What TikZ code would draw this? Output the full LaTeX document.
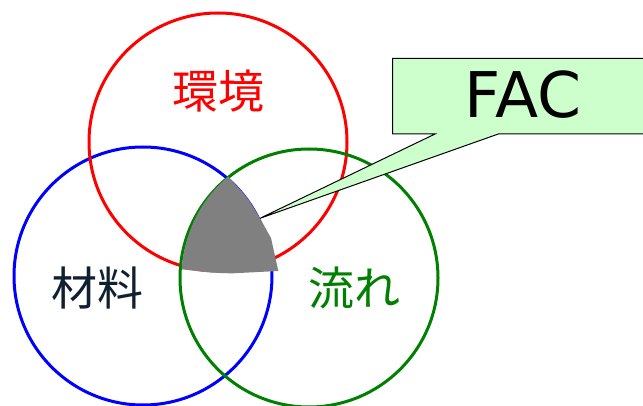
\documentclass[tikz,border=0pt]{standalone}
\usepackage{fontspec}
\newfontfamily\cjk{Noto Sans CJK JP}
\newfontfamily\facfont{DejaVu Sans}
\definecolor{redc}{HTML}{FF0000}
\definecolor{bluec}{HTML}{0000FF}
\definecolor{greenc}{HTML}{008000}
\definecolor{navy}{HTML}{102030}
\definecolor{callfill}{HTML}{CCFFCC}
\definecolor{grayfill}{HTML}{808080}
\tikzset{
  ring/.style={circle, draw, line width=3pt, minimum size=258pt, inner sep=0pt, outer sep=0pt},
  jlabel/.style={font=\cjk\fontsize{46}{46}\selectfont, inner sep=0pt}
}
\begin{document}
\begin{tikzpicture}[x=1pt,y=-1pt]
\useasboundingbox (0,0) rectangle (643,406);
\clip (0,0) rectangle (643,406);
\node[ring, draw=bluec] (mat) at (143,276) {};
\node[ring, draw=redc] (env) at (218,142) {};
\node[ring, draw=greenc] (flow) at (309,278) {};
% gray intersection region
\coordinate (ga) at (228.3,176.7);
\coordinate (gb) at (181.7,269.3);
\coordinate (gc) at (233,273.3);
\coordinate (gd) at (278.3,271);
\coordinate (ge) at (271,238);
\coordinate (tip) at (260,218.3);
\fill[grayfill] (ga) .. controls (200.5,199) and (184.1,233.8) .. (gb)
  .. controls (200,271.5) and (215,273.3) .. (gc) -- (gd) -- (ge) -- (tip)
  .. controls (248,198) .. (ga);
% callout
\coordinate (bl) at (392.7,134);
\coordinate (tl) at (392.7,58.3);
\coordinate (tr) at (650,58.3);
\coordinate (br) at (650,134);
\coordinate (b2) at (498.3,134);
\coordinate (b1) at (435,134);
\filldraw[fill=callfill, draw=black, line width=1pt, line join=miter]
  (bl) -- (tl) -- (tr) -- (br) -- (b2) -- (tip) -- (b1) -- cycle;
\node[font=\facfont\fontsize{63}{63}\selectfont, inner sep=0pt] (fac) at (523,95) {FAC};
% labels
\node[jlabel, text=redc] (envl) at (218,91) {環境};
\node[jlabel, text=navy] (matl) at (97,288) {材料};
\node[jlabel, text=greenc] (flowl) at (354,288) {流れ};
\end{tikzpicture}
\end{document}
